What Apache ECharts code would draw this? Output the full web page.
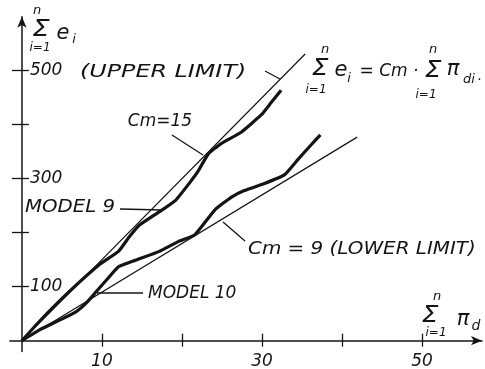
<!DOCTYPE html>
<html>
<head>
<meta charset="utf-8">
<script src="https://cdn.jsdelivr.net/npm/echarts@6/dist/echarts.min.js"></script>
<style>
  html, body { margin: 0; padding: 0; background: #fff; }
  #chart { width: 485px; height: 369px; }
</style>
</head>
<body>
<div id="chart"></div>
<script>
// values (x = sum of pi_d, y = sum of e_i)
const xTicks = [10, 20, 30, 40, 50]
const xLabels = [10, 30, 50]
const yTicks = [100, 200, 300, 400, 500]
const yLabels = [100, 300, 500]

const upperLimit = [[0, 0], [35.4, 531]]   // Cm = 15
const lowerLimit = [[0, 0], [41.9, 377]]   // Cm = 9

const model9 = [
  [0, 0], [2.2, 36], [6.0, 92], [9.7, 141], [12.1, 166], [13.4, 192],
  [14.6, 213], [17.1, 238], [19.2, 260], [21.2, 297], [22.1, 316],
  [23.3, 346], [24.9, 365], [27.4, 386], [29.9, 418], [31.1, 440], [32.4, 464]
]
const model10 = [
  [0, 0], [2.2, 20], [4.7, 38], [6.8, 54], [8.0, 69], [9.3, 91],
  [10.9, 118], [12.1, 137], [14.2, 149], [17.1, 165], [19.6, 184],
  [21.6, 196], [24.1, 242], [26.2, 266], [27.8, 278], [30.3, 291],
  [32.8, 307], [34.4, 334], [36.1, 362], [37.3, 381]
]

const ink = '#141414'

function txt(text, x, y, size, align, sx) {
  return {
    type: 'text', x: x, y: y, scaleX: sx || 1, silent: true,
    style: {
      text: text, fill: ink,
      font: 'italic ' + size + 'px "DejaVu Sans"',
      textAlign: align || 'center', textVerticalAlign: 'middle'
    }
  }
}
function pointer(x1, y1, x2, y2) {
  return {
    type: 'line', silent: true,
    shape: { x1: x1, y1: y1, x2: x2, y2: y2 },
    style: { stroke: ink, lineWidth: 1.3 }
  }
}

const xBase = {
  type: 'value', min: -1.5, max: 57.5,
  splitLine: { show: false },
  axisLine: { onZero: true, symbol: ['none', 'arrow'], symbolSize: [7, 11], lineStyle: { color: ink, width: 1.5 } }
}
const yBase = {
  type: 'value', min: -20, max: 600,
  splitLine: { show: false },
  axisLine: { onZero: true, symbol: ['none', 'arrow'], symbolSize: [7, 11], lineStyle: { color: ink, width: 1.5 } }
}

const option = {
  animation: false,
  grid: { left: 9.9, right: 3, top: 16.7, bottom: 17.5, outerBoundsMode: 'none' },
  xAxis: [
    Object.assign({}, xBase, {
      axisTick: { inside: false, length: 6, lineStyle: { color: ink, width: 1.3 }, customValues: xTicks },
      axisLabel: { customValues: xLabels, margin: 2, color: ink, fontStyle: 'italic', fontSize: 17, fontFamily: 'DejaVu Sans' }
    }),
    Object.assign({}, xBase, {
      position: 'bottom',
      axisLine: { show: false, onZero: true },
      axisTick: { inside: true, length: 7, lineStyle: { color: ink, width: 1.3 }, customValues: xTicks },
      axisLabel: { show: false }
    })
  ],
  yAxis: [
    Object.assign({}, yBase, {
      axisTick: { inside: false, length: 10, lineStyle: { color: ink, width: 1.3 }, customValues: yTicks },
      axisLabel: { inside: true, customValues: yLabels, margin: 20, color: ink, fontStyle: 'italic', fontSize: 17, fontFamily: 'DejaVu Sans' }
    }),
    Object.assign({}, yBase, {
      position: 'left',
      axisLine: { show: false, onZero: true },
      axisTick: { inside: true, length: 7, lineStyle: { color: ink, width: 1.3 }, customValues: yTicks },
      axisLabel: { show: false }
    })
  ],
  series: [
    { name: 'Cm = 15', type: 'line', data: upperLimit, symbol: 'none', lineStyle: { color: ink, width: 1.2 } },
    { name: 'Cm = 9', type: 'line', data: lowerLimit, symbol: 'none', lineStyle: { color: ink, width: 1.2 } },
    { name: 'MODEL 9', type: 'line', data: model9, symbol: 'none', smooth: 0.15, lineStyle: { color: ink, width: 3.2 } },
    { name: 'MODEL 10', type: 'line', data: model10, symbol: 'none', smooth: 0.15, lineStyle: { color: ink, width: 3.2 } }
  ],
  graphic: [
    // y axis title
    txt('n', 37, 11, 13), txt('Σ', 41, 30, 23, 'center', 1.2), txt('i=1', 40, 48, 12),
    txt('e', 63, 34, 21), txt('i', 74, 40, 13),
    // upper limit
    txt('(UPPER LIMIT)', 80, 73, 17, 'left', 1.4),
    pointer(265, 71, 280, 79),
    txt('n', 325, 50, 13), txt('Σ', 320, 69, 23, 'center', 1.15), txt('i=1', 316, 90, 12),
    txt('e', 341, 71, 21), txt('i', 349, 79, 13),
    txt('= Cm ·', 389, 72, 17), txt('n', 433, 50, 13), txt('Σ', 433, 71, 23, 'center', 1.15), txt('i=1', 426, 95, 12),
    txt('π', 453, 70, 21), txt('di', 469, 80, 13), txt('.', 480, 76, 14),
    txt('Cm=15', 160, 122, 17), pointer(172, 135, 203, 155),
    txt('MODEL 9', 25, 208, 17, 'left', 1.16), pointer(120, 209, 163, 210),
    txt('Cm = 9 (LOWER LIMIT)', 248, 250, 17, 'left', 1.17), pointer(223, 222, 245, 241),
    txt('MODEL 10', 148, 294, 17, 'left'), pointer(97, 293, 143, 293),
    // x axis title
    txt('n', 437, 297, 13), txt('Σ', 430, 316, 23, 'center', 1.15), txt('i=1', 436, 333, 12),
    txt('π', 463, 320, 21), txt('d', 476, 326, 14)
  ]
}

const chart = echarts.init(document.getElementById('chart'))
chart.setOption(option)
window.onresize = () => { chart.resize() }
</script>
</body>
</html>
